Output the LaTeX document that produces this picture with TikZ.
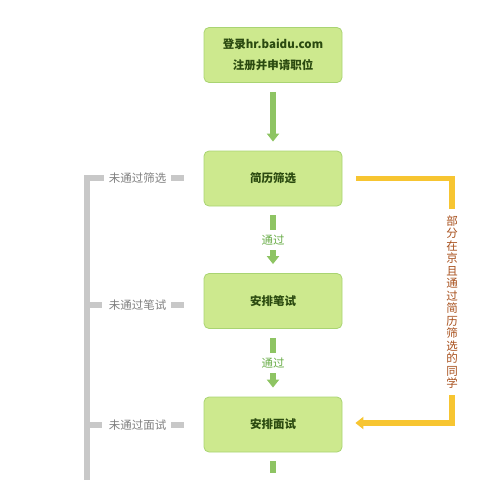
\documentclass[tikz,border=0pt]{standalone}
\usepackage{fontspec}
\setmainfont{Noto Sans CJK SC}
\usetikzlibrary{arrows.meta}
\definecolor{boxfill}{HTML}{CDE98E}
\definecolor{boxline}{HTML}{A9D472}
\definecolor{boxtext}{HTML}{2B4A10}
\definecolor{arrgreen}{HTML}{8EC463}
\definecolor{passtext}{HTML}{6BAE4A}
\definecolor{lgray}{HTML}{C8C8C8}
\definecolor{gtext}{HTML}{7F7F7F}
\definecolor{ylw}{HTML}{F7C531}
\definecolor{brown}{HTML}{A8501C}
\tikzset{
  stepbox/.style={draw=boxline, line width=0.8pt, fill=boxfill, rounded corners=5pt,
    minimum width=138pt, minimum height=55pt, inner sep=0pt, align=center,
    font=\fontsize{11.5}{21}\selectfont\bfseries, text=boxtext},
  garrow/.style={draw=arrgreen, line width=5.5pt, -{Triangle[width=12pt,length=8pt]},
    shorten <=9pt, shorten >=9pt},
  gstub/.style={draw=arrgreen, line width=5.5pt},
  passlbl/.style={fill=white, inner xsep=2pt, inner ysep=5pt, text=passtext,
    font=\fontsize{11.5}{12}\selectfont},
  faillbl/.style={inner sep=2pt, text=gtext, font=\fontsize{11.5}{12}\selectfont},
  gline/.style={draw=lgray, line width=5.5pt},
  yline/.style={draw=ylw, line width=5.5pt},
}
\begin{document}
\begin{tikzpicture}[x=1pt,y=-1pt]
\useasboundingbox (0,0) rectangle (500,479);
\clip (0,0) rectangle (500,479);
\node[stepbox] (b1) at (273,55) {登录hr.baidu.com\\注册并申请职位};
\node[stepbox] (b2) at (273,178.5) {简历筛选};
\node[stepbox] (b3) at (273,301) {安排笔试};
\node[stepbox] (b4) at (273,424.5) {安排面试};
\coordinate (b5) at (273,473);
% green arrows
\draw[garrow] (b1) -- (b2);
\draw[garrow] (b2) -- node[passlbl] {通过} (b3);
\draw[garrow] (b3) -- node[passlbl] {通过} (b4);
\draw[gstub, shorten <=9pt] (b4.south) -- (b5);
% fail labels
\node[faillbl] (f1) at (137.5,178) {未通过筛选};
\node[faillbl] (f2) at (137.5,305) {未通过笔试};
\node[faillbl] (f3) at (137.5,425) {未通过面试};
\coordinate (c1) at (87,178);
\coordinate (c2) at (87,305);
\coordinate (c3) at (87,425);
\coordinate (cb) at (87,490);
\draw[gline, line cap=butt] ([xshift=-3pt]f1.west) -- (c1) -- (cb);
\draw[gline] ([xshift=-5pt]f2.west) -- (c2);
\draw[gline] ([xshift=-5pt]f3.west) -- (c3);
\draw[gline] ([xshift=3pt]f1.east) -- ++(13,0);
\draw[gline] ([xshift=3pt]f2.east) -- ++(13,0);
\draw[gline] ([xshift=3pt]f3.east) -- ++(13,0);
% yellow path
\coordinate (y1) at (452,178.5);
\coordinate (y2) at (452,423);
\draw[yline, -{Triangle[width=12pt,length=8pt]}, shorten <=14pt, shorten >=13pt]
  (b2.east) -- (y1) -- (y2) -- (b4.east |- y2);
\node[fill=white, inner xsep=2pt, inner ysep=6pt, align=center, text=brown,
  font=\fontsize{11.5}{12.5}\selectfont] (vt) at (452,302)
  {部\\分\\在\\京\\且\\通\\过\\简\\历\\筛\\选\\的\\同\\学};
\end{tikzpicture}
\end{document}
